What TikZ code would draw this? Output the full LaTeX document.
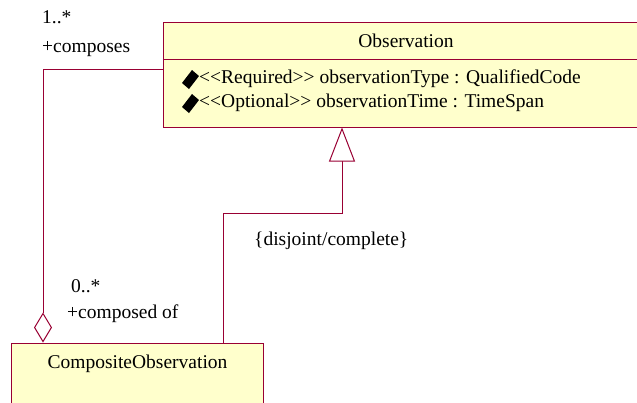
\documentclass[tikz,border=0pt]{standalone}
\usepackage{fontspec}
\setmainfont{Liberation Serif}
\usetikzlibrary{arrows.meta}
\definecolor{umlline}{RGB}{153,0,51}
\definecolor{umlfill}{RGB}{255,255,204}
\newcommand\stlt{<\kern0pt<}
\newcommand\stgt{>\kern0pt>}
\tikzset{
  classbox/.style={draw=umlline, fill=umlfill, line width=1pt, inner sep=0pt},
  assoc/.style={draw=umlline, line width=1pt},
  txt/.style={inner sep=0pt, anchor=base west, font=\fontsize{19.5}{23}\selectfont},
  attrmark/.style={fill=black},
}
\begin{document}
\begin{tikzpicture}[x=1pt,y=-1pt]
\useasboundingbox (0,0) rectangle (637,402);
\begin{scope}
  \clip (0,0) rectangle (637,402);
  \node[classbox, minimum width=487pt, minimum height=105pt] (obs) at (406.5,74.5) {};
  \draw[assoc] (obs.west |- 0,59) -- (obs.east |- 0,59);
  \node[classbox, minimum width=252pt, minimum height=67pt] (comp) at (137,376.5) {};
\end{scope}
\begin{scope}
  \node[txt, anchor=base] (obstitle) at (406,47) {Observation};
  \fill[attrmark] (182,83) -- (192,70) -- (199,76) -- (189,89) -- cycle;
  \node[txt] (attr1) at (199,83) {\stlt Required\stgt{} observationType : QualifiedCode};
  \fill[attrmark] (182,107) -- (192,94) -- (199,100) -- (189,113) -- cycle;
  \node[txt] (attr2) at (199,107) {\stlt Optional\stgt{} observationTime : TimeSpan};
  \node[txt, anchor=base] (comptitle) at (137.5,368) {CompositeObservation};
\end{scope}
\begin{scope}
  \node[txt] (mult1) at (42,23) {1..*};
  \node[txt] (role1) at (42,52) {+composes};
  \node[txt] (mult2) at (71,292) {0..*};
  \node[txt] (role2) at (67,318) {+composed of};
  \node[txt] (constr) at (254,245) {\{disjoint/complete\}};
\end{scope}
\coordinate (aggfrom) at (obs.west |- 0,69);
\coordinate (aggto) at (comp.north -| 43,0);
\draw[assoc, -{Diamond[open, fill=white, length=30pt, width=18pt]}] (aggfrom) -| (aggto);
\coordinate (genfrom) at (comp.north -| 223,0);
\coordinate (genbend) at (342,213);
\coordinate (gento) at (obs.south -| 342,0);
\draw[assoc, -{Triangle[open, fill=white, length=34pt, width=26pt]}] (genfrom) |- (genbend) -- (gento);
\end{tikzpicture}
\end{document}
